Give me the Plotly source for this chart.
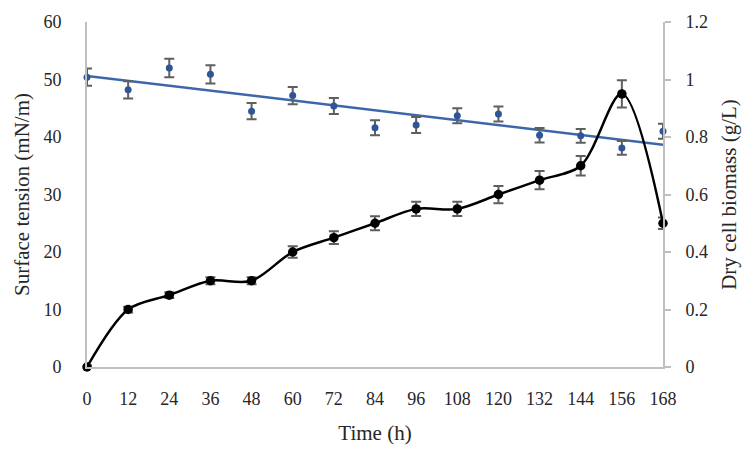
import numpy as np
import plotly.graph_objects as go

time_h = [0, 12, 24, 36, 48, 60, 72, 84, 96, 108, 120, 132, 144, 156, 168]
surface_tension = [50.4, 48.2, 52.0, 50.9, 44.5, 47.2, 45.4, 41.6, 42.1, 43.7, 44.0, 40.3, 40.2, 38.1, 41.0]
surface_tension_err = [1.5, 1.5, 1.6, 1.6, 1.4, 1.5, 1.4, 1.3, 1.4, 1.3, 1.3, 1.25, 1.2, 1.2, 1.3]
biomass = [0.0, 0.2, 0.25, 0.3, 0.3, 0.4, 0.45, 0.5, 0.55, 0.55, 0.6, 0.65, 0.7, 0.95, 0.5]
biomass_err = [0.005, 0.01, 0.01, 0.012, 0.012, 0.02, 0.022, 0.024, 0.025, 0.025, 0.03, 0.032, 0.034, 0.047, 0.02]
x_ticks = time_h

slope, intercept = np.polyfit(time_h, surface_tension, 1)
trend = [slope * t + intercept for t in time_h]

BLUE = "#2F5597"
TREND = "#3C67AA"
GREY = "#5F5F5F"
AXIS = "#BFBFBF"
FONT = "Liberation Serif"
TXT = "#262626"

fig = go.Figure()

fig.add_trace(go.Scatter(
    x=time_h, y=biomass, yaxis="y2", mode="lines+markers",
    line=dict(color="black", width=2.5, shape="spline", smoothing=0.9),
    marker=dict(color="black", size=9.5),
    error_y=dict(type="data", array=biomass_err, color=GREY, thickness=2, width=5),
    cliponaxis=False, showlegend=False,
))

fig.add_trace(go.Scatter(
    x=time_h, y=trend, mode="lines",
    line=dict(color=TREND, width=2.5),
    cliponaxis=False, showlegend=False, hoverinfo="skip",
))

fig.add_trace(go.Scatter(
    x=time_h, y=surface_tension, mode="markers",
    marker=dict(color=BLUE, size=7),
    error_y=dict(type="data", array=surface_tension_err, color=GREY, thickness=2, width=5),
    cliponaxis=False, showlegend=False,
))

fig.update_layout(
    width=754, height=453,
    margin=dict(l=87, r=91, t=15, b=84),
    paper_bgcolor="white", plot_bgcolor="white",
    font=dict(family=FONT, size=18, color=TXT),
    xaxis=dict(
        range=[0, 168], tickvals=x_ticks, ticktext=[str(t) for t in x_ticks],
        showgrid=False, zeroline=False, showline=True, linecolor=AXIS, linewidth=2,
        ticks="", ticklabelstandoff=14,
        title=dict(text="Time (h)", font=dict(size=21), standoff=18),
    ),
    yaxis=dict(
        range=[0, 60], dtick=10, showgrid=False, zeroline=False,
        showline=True, linecolor=AXIS, linewidth=2, ticks="",
        ticklabelstandoff=20,
        title=dict(text="Surface tension (mN/m)", font=dict(size=21), standoff=8),
    ),
    yaxis2=dict(
        range=[0, 1.2], dtick=0.2, overlaying="y", side="right",
        showgrid=False, zeroline=False, showline=True, linecolor=AXIS, linewidth=2,
        ticks="outside", ticklen=6, tickcolor=AXIS, tickwidth=2,
        ticklabelstandoff=11,
        title=dict(text="Dry cell biomass (g/L)", font=dict(size=21), standoff=14),
    ),
)

fig.write_html("out.html", post_script="document.body.style.margin='0';",
               config={"displayModeBar": False})
